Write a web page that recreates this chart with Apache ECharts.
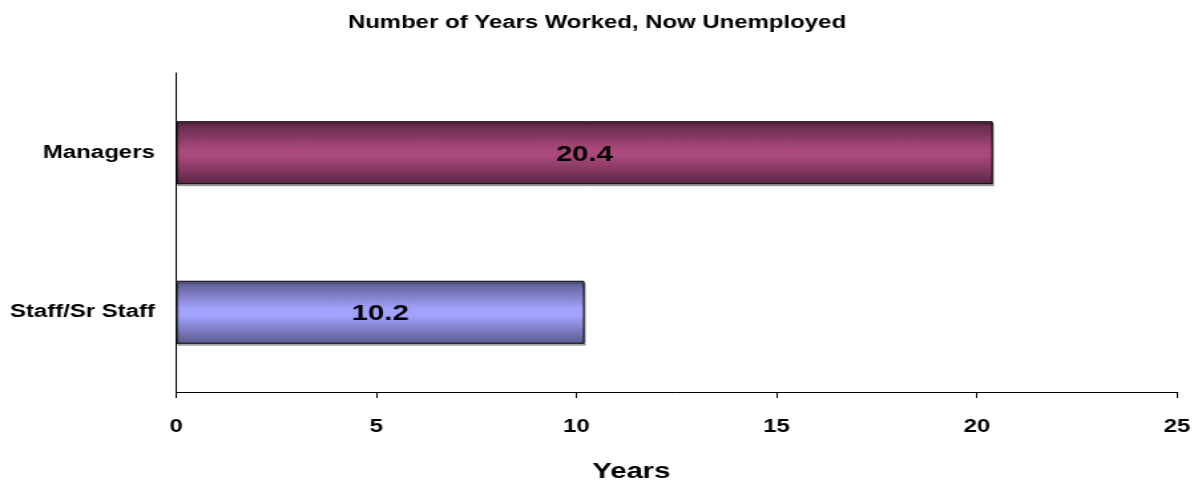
<!DOCTYPE html>
<html>
<head>
<meta charset="utf-8">
<script src="https://cdn.jsdelivr.net/npm/echarts@6/dist/echarts.min.js"></script>
<style>
  html, body { margin: 0; padding: 0; background: #ffffff; overflow: hidden; }
  /* The chart is laid out on a narrower canvas and widened to 1202px,
     giving the broad, stretched lettering of the original slide graphic. */
  #chart {
    width: 904px;
    height: 486px;
    transform: scaleX(1.3296);
    transform-origin: 0 0;
  }
</style>
</head>
<body>
<div id="chart"></div>
<script>
// Average years worked by job level, for people now unemployed
const categories = ['Managers', 'Staff/Sr Staff'];
const yearsWorked = [20.4, 10.2];
const xTicks = [0, 5, 10, 15, 20, 25];

// Each bar gets a vertical gradient: dark edges, bright middle band
const barPalettes = [
  { edge: '#5c2544', mid: '#aa4a7c' },
  { edge: '#5a5a8c', mid: '#a3a3ff' }
];

function tubeGradient(p) {
  return new echarts.graphic.LinearGradient(0, 0, 0, 1, [
    { offset: 0, color: p.edge },
    { offset: 0.45, color: p.mid },
    { offset: 0.55, color: p.mid },
    { offset: 1, color: p.edge }
  ]);
}

const FONT = 'Liberation Sans, Arial, sans-serif';
const chart = echarts.init(document.getElementById('chart'), null, { renderer: 'canvas' });

chart.setOption({
  animation: false,
  backgroundColor: '#ffffff',
  title: {
    text: 'Number of Years Worked, Now Unemployed',
    left: 444,
    top: 9,
    textAlign: 'center',
    textStyle: { fontFamily: FONT, fontWeight: 'bold', fontSize: 18, color: '#000000' }
  },
  grid: {
    left: 132.4, right: 18.8, top: 73, bottom: 94,
    containLabel: false,
    outerBoundsMode: 'none'
  },
  xAxis: {
    type: 'value',
    min: xTicks[0],
    max: xTicks[xTicks.length - 1],
    interval: 5,
    name: 'Years',
    nameLocation: 'middle',
    nameGap: 69,
    nameTextStyle: {
      fontFamily: FONT, fontWeight: 'bold', fontSize: 22, color: '#000000',
      // the axis title sits a little left of the axis centre
      padding: [0, 68, 0, 0]
    },
    axisLine: { show: true, lineStyle: { color: '#000000', width: 1 } },
    axisTick: { show: true, length: 6, inside: false, lineStyle: { color: '#000000' } },
    splitLine: { show: false },
    axisLabel: { margin: 26, fontFamily: FONT, fontWeight: 'bold', fontSize: 18, color: '#000000' }
  },
  yAxis: {
    type: 'category',
    data: categories,
    inverse: true,
    axisLine: { show: true, lineStyle: { color: '#000000', width: 1 } },
    axisTick: { show: false },
    axisLabel: { margin: 16, fontFamily: FONT, fontWeight: 'bold', fontSize: 18, color: '#000000' }
  },
  series: [{
    type: 'bar',
    barWidth: 63,
    data: yearsWorked.map((v, i) => ({
      value: v,
      itemStyle: {
        color: tubeGradient(barPalettes[i]),
        borderColor: '#000000',
        borderWidth: 1,
        shadowColor: 'rgba(0,0,0,0.3)',
        shadowBlur: 0,
        shadowOffsetX: 1,
        shadowOffsetY: 2
      }
    })),
    label: {
      show: true,
      position: 'inside',
      formatter: p => p.value.toFixed(1),
      fontFamily: FONT,
      fontWeight: 'bold',
      fontSize: 22,
      color: '#000000',
      offset: [0, 2]
    }
  }]
});
</script>
</body>
</html>
